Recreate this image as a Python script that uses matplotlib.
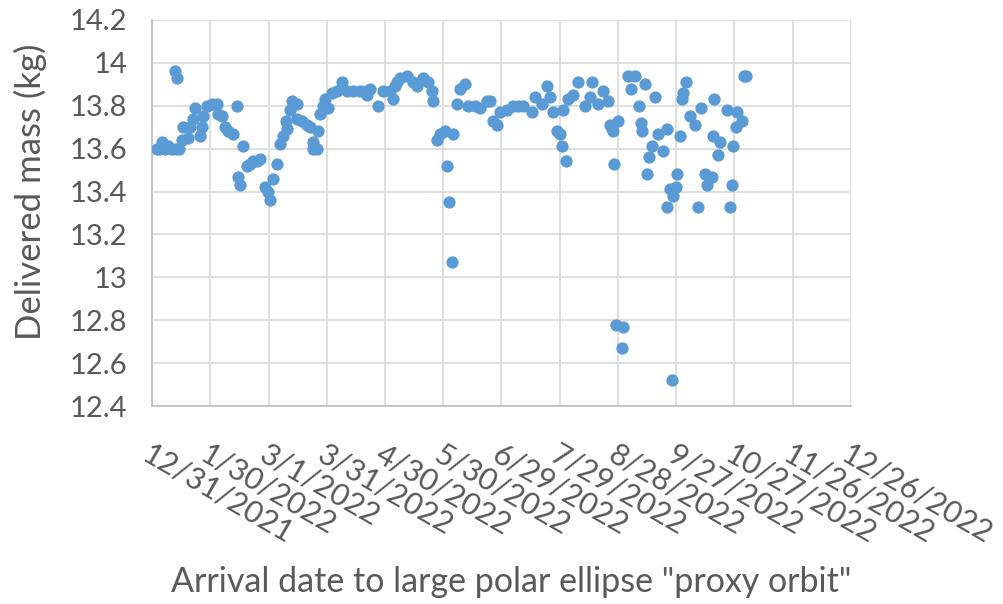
import numpy as np
import pandas as pd
import matplotlib
matplotlib.use("Agg")
import matplotlib.pyplot as plt

plt.rcParams['font.family'] = ['Lato', 'DejaVu Sans']

# days after 12/31/2021 and delivered mass (kg)
days = [2.6, 3.6, 5.1, 6.7, 8.2, 10.3, 11.8, 12.4, 12.9, 13.9,
        15.4, 16.0, 18.5, 19.6, 21.1, 22.1, 24.7, 25.7, 26.2, 28.3,
        30.9, 33.5, 34.0, 36.0, 37.6, 39.1, 41.7, 43.7, 44.3, 45.3,
        46.8, 48.9, 50.4, 52.0, 54.0, 55.6, 58.2, 59.7, 60.7, 62.3,
        64.3, 65.9, 67.4, 69.0, 69.5, 71.0, 72.1, 74.6, 74.6, 77.2,
        79.8, 81.3, 82.9, 82.9, 84.9, 85.4, 86.5, 88.0, 89.0, 90.6,
        92.6, 95.2, 97.8, 100.4, 103.4, 107.0, 110.7, 110.7, 112.2, 116.3,
        118.9, 122.5, 124.0, 125.1, 126.1, 127.6, 131.2, 134.3, 136.4, 139.5,
        142.0, 144.1, 144.6, 146.7, 148.2, 150.8, 151.8, 152.9, 154.4, 154.9,
        157.0, 158.5, 161.1, 162.6, 166.2, 168.8, 172.4, 174.0, 175.5, 177.6,
        179.1, 182.7, 185.8, 188.4, 190.9, 195.6, 197.1, 200.7, 203.3, 204.8,
        206.4, 208.4, 210.0, 211.0, 211.5, 213.1, 214.1, 216.7, 219.2, 222.9,
        225.4, 226.5, 229.5, 232.1, 234.7, 235.7, 236.8, 237.3, 237.8, 238.8,
        239.8, 241.9, 242.4, 245.0, 246.5, 248.6, 250.6, 251.7, 252.2, 253.7,
        254.8, 255.8, 257.3, 258.9, 260.4, 263.0, 265.1, 265.1, 266.6, 267.6,
        268.1, 269.7, 270.2, 271.7, 272.8, 273.3, 274.8, 276.9, 279.5, 281.0,
        283.0, 284.6, 285.6, 288.2, 288.7, 289.7, 291.3, 292.3, 295.9, 297.5,
        298.5, 299.0, 300.6, 301.1, 303.7, 304.7, 305.7]
mass = [13.60, 13.60, 13.63, 13.60, 13.61, 13.60, 13.96, 13.60, 13.93, 13.60,
        13.64, 13.70, 13.65, 13.70, 13.74, 13.79, 13.66, 13.70, 13.75, 13.80,
        13.81, 13.81, 13.76, 13.75, 13.70, 13.68, 13.67, 13.80, 13.47, 13.43,
        13.61, 13.52, 13.53, 13.54, 13.54, 13.55, 13.42, 13.40, 13.36, 13.46,
        13.53, 13.62, 13.66, 13.73, 13.69, 13.78, 13.82, 13.81, 13.74, 13.73,
        13.71, 13.70, 13.63, 13.60, 13.60, 13.68, 13.76, 13.80, 13.83, 13.79,
        13.86, 13.87, 13.91, 13.87, 13.87, 13.87, 13.87, 13.85, 13.88, 13.80,
        13.87, 13.87, 13.83, 13.89, 13.91, 13.93, 13.94, 13.91, 13.89, 13.93,
        13.91, 13.87, 13.82, 13.64, 13.67, 13.68, 13.52, 13.35, 13.07, 13.67,
        13.81, 13.88, 13.90, 13.80, 13.80, 13.79, 13.82, 13.82, 13.73, 13.71,
        13.77, 13.78, 13.80, 13.80, 13.80, 13.77, 13.84, 13.81, 13.89, 13.84,
        13.77, 13.68, 13.67, 13.61, 13.78, 13.54, 13.83, 13.85, 13.91, 13.80,
        13.84, 13.91, 13.81, 13.87, 13.82, 13.71, 13.69, 13.68, 13.53, 12.78,
        13.73, 12.67, 12.77, 13.94, 13.88, 13.94, 13.80, 13.72, 13.68, 13.90,
        13.48, 13.56, 13.61, 13.84, 13.67, 13.59, 13.69, 13.33, 13.41, 12.52,
        13.38, 13.42, 13.48, 13.66, 13.83, 13.86, 13.91, 13.75, 13.71, 13.33,
        13.79, 13.48, 13.43, 13.47, 13.66, 13.83, 13.57, 13.63, 13.78, 13.33,
        13.43, 13.61, 13.70, 13.77, 13.73, 13.94, 13.94]

start = pd.Timestamp('2021-12-31')
tick_labels = ['12/31/2021', '1/30/2022', '3/1/2022', '3/31/2022', '4/30/2022',
               '5/30/2022', '6/29/2022', '7/29/2022', '8/28/2022', '9/27/2022',
               '10/27/2022', '11/26/2022', '12/26/2022']
y_ticks = [12.4, 12.6, 12.8, 13, 13.2, 13.4, 13.6, 13.8, 14, 14.2]

dates = start + pd.to_timedelta(days, unit='D')
tick_dates = pd.date_range(start, periods=len(tick_labels), freq='30D')

grey = '#595959'
fig = plt.figure(figsize=(10.04, 6.04), dpi=100)
ax = fig.add_axes([0.1514, 0.3278, 0.6962, 0.6392])

ax.scatter(dates, mass, s=78, color='#5B9BD5', zorder=3, linewidths=0)

ax.set_xlim(tick_dates[0], tick_dates[-1])
ax.set_ylim(12.4, 14.2)
ax.set_xticks(tick_dates)
ax.set_xticklabels(tick_labels, rotation=-30, ha='left', va='top',
                   rotation_mode='anchor', fontsize=22, color=grey)
ax.set_yticks(y_ticks)
ax.set_yticklabels([f'{v:g}' for v in y_ticks], fontsize=21, color=grey)
ax.tick_params(axis='x', length=0, pad=24)
ax.tick_params(axis='y', length=0, pad=18)

ax.grid(True, color='#D9D9D9', linewidth=1.2)
ax.set_axisbelow(True)
for side in ['top', 'right']:
    ax.spines[side].set_visible(False)
for side in ['left', 'bottom']:
    ax.spines[side].set_color('#BFBFBF')
    ax.spines[side].set_linewidth(1.2)

fig.text(0.03, 0.682, 'Delivered mass (kg)', rotation=90, ha='center',
         va='center', fontsize=25, color=grey)
fig.text(0.509, 0.036, 'Arrival date to large polar ellipse "proxy orbit"',
         ha='center', va='center', fontsize=24.5, color=grey)

fig.savefig('out.png', dpi=100)
